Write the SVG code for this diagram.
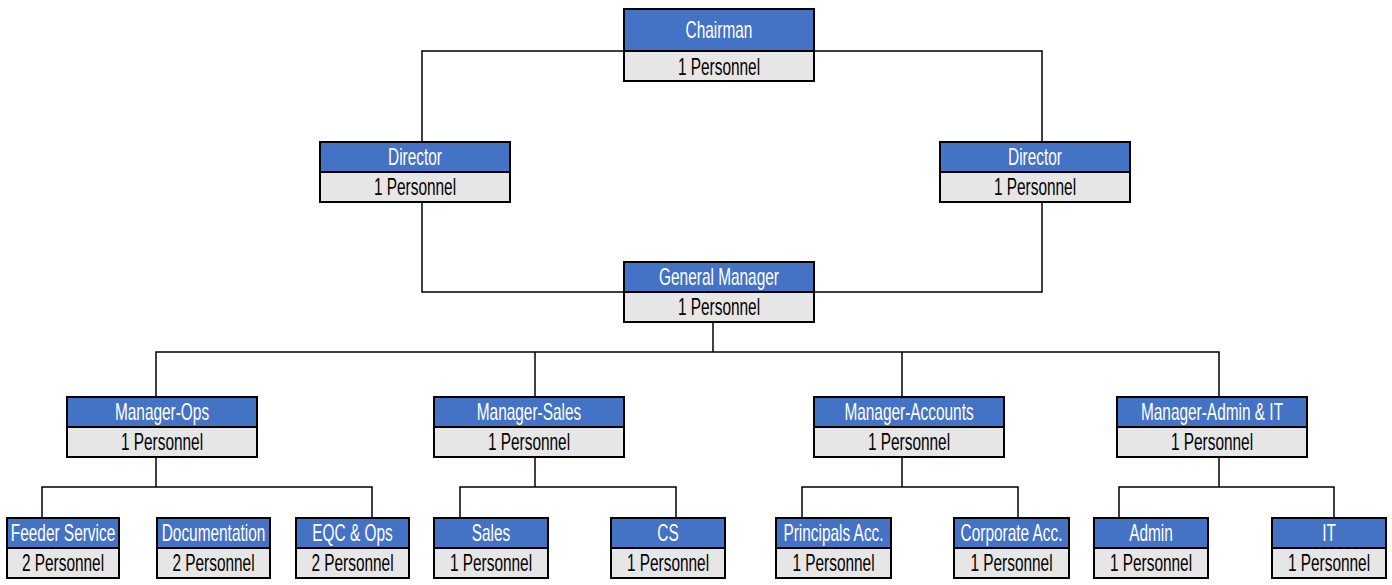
<svg xmlns="http://www.w3.org/2000/svg" width="1392" height="585" viewBox="0 0 1392 585">
<style>
.hd{fill:#4472C4}
.bd{fill:#E7E6E6}
.fr{fill:none;stroke:#000;stroke-width:2}
.dv{stroke:#000;stroke-width:2}
.ct{fill:none;stroke:#000;stroke-width:1.5}
text{font-family:"Liberation Sans",Arial,sans-serif;font-size:23px;text-anchor:middle}
.th{fill:#FFFFFF}
.tb{fill:#000000}
</style>
<rect width="1392" height="585" fill="#FFFFFF"/>
<g id="connectors">
<path class="ct" d="M422,142 V51 H1042 V142"/>
<path class="ct" d="M422,202 V292 H624"/>
<path class="ct" d="M1042,202 V292 H814"/>
<path class="ct" d="M713,322 V352"/>
<path class="ct" d="M156,397 V352 H1219 V397"/>
<path class="ct" d="M535,352 V397"/>
<path class="ct" d="M902,352 V397"/>
<path class="ct" d="M156,457 V487"/>
<path class="ct" d="M42,518 V487 H372 V518"/>
<path class="ct" d="M535,457 V487"/>
<path class="ct" d="M460,518 V487 H676 V518"/>
<path class="ct" d="M902,457 V487"/>
<path class="ct" d="M802,518 V487 H1018 V518"/>
<path class="ct" d="M1219,457 V487"/>
<path class="ct" d="M1119,518 V487 H1334 V518"/>
</g>
<g id="chairman">
<rect class="hd" x="624" y="9" width="190" height="42"/>
<rect class="bd" x="624" y="51" width="190" height="30"/>
<line class="dv" x1="624" y1="51" x2="814" y2="51"/>
<rect class="fr" x="624" y="9" width="190" height="72"/>
<text class="th" transform="translate(719,38) scale(0.67,1)">Chairman</text>
<text class="tb" transform="translate(719,75) scale(0.67,1)">1 Personnel</text>
</g>
<g id="director-left">
<rect class="hd" x="320" y="142" width="190" height="30"/>
<rect class="bd" x="320" y="172" width="190" height="30"/>
<line class="dv" x1="320" y1="172" x2="510" y2="172"/>
<rect class="fr" x="320" y="142" width="190" height="60"/>
<text class="th" transform="translate(415,165) scale(0.67,1)">Director</text>
<text class="tb" transform="translate(415,195) scale(0.67,1)">1 Personnel</text>
</g>
<g id="director-right">
<rect class="hd" x="940" y="142" width="190" height="30"/>
<rect class="bd" x="940" y="172" width="190" height="30"/>
<line class="dv" x1="940" y1="172" x2="1130" y2="172"/>
<rect class="fr" x="940" y="142" width="190" height="60"/>
<text class="th" transform="translate(1035,165) scale(0.67,1)">Director</text>
<text class="tb" transform="translate(1035,195) scale(0.67,1)">1 Personnel</text>
</g>
<g id="general-manager">
<rect class="hd" x="624" y="262" width="190" height="30"/>
<rect class="bd" x="624" y="292" width="190" height="30"/>
<line class="dv" x1="624" y1="292" x2="814" y2="292"/>
<rect class="fr" x="624" y="262" width="190" height="60"/>
<text class="th" transform="translate(719,285) scale(0.67,1)">General Manager</text>
<text class="tb" transform="translate(719,315) scale(0.67,1)">1 Personnel</text>
</g>
<g id="manager-ops">
<rect class="hd" x="67" y="397" width="190" height="30"/>
<rect class="bd" x="67" y="427" width="190" height="30"/>
<line class="dv" x1="67" y1="427" x2="257" y2="427"/>
<rect class="fr" x="67" y="397" width="190" height="60"/>
<text class="th" transform="translate(162,420) scale(0.67,1)">Manager-Ops</text>
<text class="tb" transform="translate(162,450) scale(0.67,1)">1 Personnel</text>
</g>
<g id="manager-sales">
<rect class="hd" x="434" y="397" width="190" height="30"/>
<rect class="bd" x="434" y="427" width="190" height="30"/>
<line class="dv" x1="434" y1="427" x2="624" y2="427"/>
<rect class="fr" x="434" y="397" width="190" height="60"/>
<text class="th" transform="translate(529,420) scale(0.67,1)">Manager-Sales</text>
<text class="tb" transform="translate(529,450) scale(0.67,1)">1 Personnel</text>
</g>
<g id="manager-accounts">
<rect class="hd" x="814" y="397" width="190" height="30"/>
<rect class="bd" x="814" y="427" width="190" height="30"/>
<line class="dv" x1="814" y1="427" x2="1004" y2="427"/>
<rect class="fr" x="814" y="397" width="190" height="60"/>
<text class="th" transform="translate(909,420) scale(0.67,1)">Manager-Accounts</text>
<text class="tb" transform="translate(909,450) scale(0.67,1)">1 Personnel</text>
</g>
<g id="manager-admin-it">
<rect class="hd" x="1117" y="397" width="190" height="30"/>
<rect class="bd" x="1117" y="427" width="190" height="30"/>
<line class="dv" x1="1117" y1="427" x2="1307" y2="427"/>
<rect class="fr" x="1117" y="397" width="190" height="60"/>
<text class="th" transform="translate(1212,420) scale(0.67,1)">Manager-Admin &amp; IT</text>
<text class="tb" transform="translate(1212,450) scale(0.67,1)">1 Personnel</text>
</g>
<g id="feeder-service">
<rect class="hd" x="7" y="518" width="112" height="30"/>
<rect class="bd" x="7" y="548" width="112" height="30"/>
<line class="dv" x1="7" y1="548" x2="119" y2="548"/>
<rect class="fr" x="7" y="518" width="112" height="60"/>
<text class="th" transform="translate(63,541) scale(0.67,1)">Feeder Service</text>
<text class="tb" transform="translate(63,571) scale(0.67,1)">2 Personnel</text>
</g>
<g id="documentation">
<rect class="hd" x="157" y="518" width="113" height="30"/>
<rect class="bd" x="157" y="548" width="113" height="30"/>
<line class="dv" x1="157" y1="548" x2="270" y2="548"/>
<rect class="fr" x="157" y="518" width="113" height="60"/>
<text class="th" transform="translate(213.5,541) scale(0.67,1)">Documentation</text>
<text class="tb" transform="translate(213.5,571) scale(0.67,1)">2 Personnel</text>
</g>
<g id="eqc-ops">
<rect class="hd" x="296" y="518" width="113" height="30"/>
<rect class="bd" x="296" y="548" width="113" height="30"/>
<line class="dv" x1="296" y1="548" x2="409" y2="548"/>
<rect class="fr" x="296" y="518" width="113" height="60"/>
<text class="th" transform="translate(352.5,541) scale(0.67,1)">EQC &amp; Ops</text>
<text class="tb" transform="translate(352.5,571) scale(0.67,1)">2 Personnel</text>
</g>
<g id="sales">
<rect class="hd" x="434" y="518" width="114" height="30"/>
<rect class="bd" x="434" y="548" width="114" height="30"/>
<line class="dv" x1="434" y1="548" x2="548" y2="548"/>
<rect class="fr" x="434" y="518" width="114" height="60"/>
<text class="th" transform="translate(491,541) scale(0.67,1)">Sales</text>
<text class="tb" transform="translate(491,571) scale(0.67,1)">1 Personnel</text>
</g>
<g id="cs">
<rect class="hd" x="611" y="518" width="114" height="30"/>
<rect class="bd" x="611" y="548" width="114" height="30"/>
<line class="dv" x1="611" y1="548" x2="725" y2="548"/>
<rect class="fr" x="611" y="518" width="114" height="60"/>
<text class="th" transform="translate(668,541) scale(0.67,1)">CS</text>
<text class="tb" transform="translate(668,571) scale(0.67,1)">1 Personnel</text>
</g>
<g id="principals-acc">
<rect class="hd" x="776" y="518" width="115" height="30"/>
<rect class="bd" x="776" y="548" width="115" height="30"/>
<line class="dv" x1="776" y1="548" x2="891" y2="548"/>
<rect class="fr" x="776" y="518" width="115" height="60"/>
<text class="th" transform="translate(833.5,541) scale(0.67,1)">Principals Acc.</text>
<text class="tb" transform="translate(833.5,571) scale(0.67,1)">1 Personnel</text>
</g>
<g id="corporate-acc">
<rect class="hd" x="954" y="518" width="115" height="30"/>
<rect class="bd" x="954" y="548" width="115" height="30"/>
<line class="dv" x1="954" y1="548" x2="1069" y2="548"/>
<rect class="fr" x="954" y="518" width="115" height="60"/>
<text class="th" transform="translate(1011.5,541) scale(0.67,1)">Corporate Acc.</text>
<text class="tb" transform="translate(1011.5,571) scale(0.67,1)">1 Personnel</text>
</g>
<g id="admin">
<rect class="hd" x="1094" y="518" width="114" height="30"/>
<rect class="bd" x="1094" y="548" width="114" height="30"/>
<line class="dv" x1="1094" y1="548" x2="1208" y2="548"/>
<rect class="fr" x="1094" y="518" width="114" height="60"/>
<text class="th" transform="translate(1151,541) scale(0.67,1)">Admin</text>
<text class="tb" transform="translate(1151,571) scale(0.67,1)">1 Personnel</text>
</g>
<g id="it">
<rect class="hd" x="1272" y="518" width="114" height="30"/>
<rect class="bd" x="1272" y="548" width="114" height="30"/>
<line class="dv" x1="1272" y1="548" x2="1386" y2="548"/>
<rect class="fr" x="1272" y="518" width="114" height="60"/>
<text class="th" transform="translate(1329,541) scale(0.67,1)">IT</text>
<text class="tb" transform="translate(1329,571) scale(0.67,1)">1 Personnel</text>
</g>
</svg>
